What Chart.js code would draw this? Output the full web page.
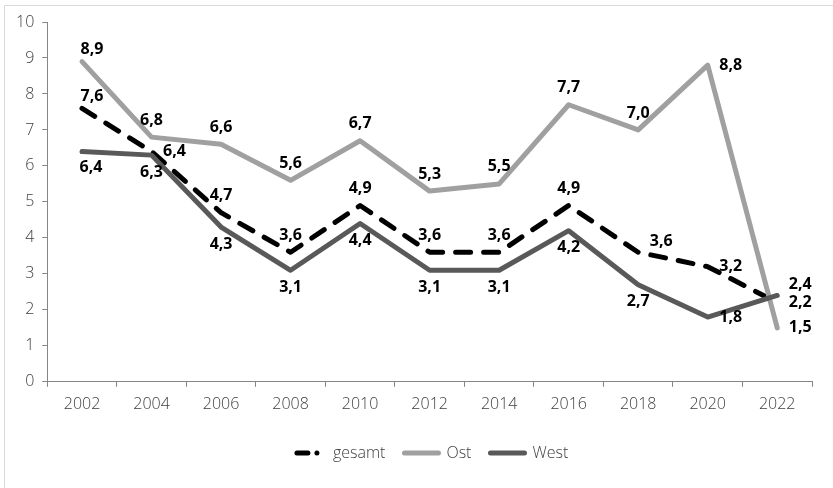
<!DOCTYPE html>
<html lang="de">
<head>
<meta charset="utf-8">
<title>gesamt / Ost / West</title>
<script src="https://cdn.jsdelivr.net/npm/chart.js@4.4.1/dist/chart.umd.min.js"></script>
<style>
  html, body { margin: 0; padding: 0; background: #fff; overflow: hidden; }
  #wrap { position: relative; width: 833px; height: 488px; }
</style>
</head>
<body>
<div id="wrap"><canvas id="chart"></canvas></div>
<script>
/* Jahre und Werte je Gruppe */
const years   = ['2002', '2004', '2006', '2008', '2010', '2012', '2014', '2016', '2018', '2020', '2022'];
const gesamt  = [7.6, 6.4, 4.7, 3.6, 4.9, 3.6, 3.6, 4.9, 3.6, 3.2, 2.2];
const ost     = [8.9, 6.8, 6.6, 5.6, 6.7, 5.3, 5.5, 7.7, 7.0, 8.8, 1.5];
const west    = [6.4, 6.3, 4.3, 3.1, 4.4, 3.1, 3.1, 4.2, 2.7, 1.8, 2.4];
const yTicks  = [0, 1, 2, 3, 4, 5, 6, 7, 8, 9, 10];

// Lage der Wertbeschriftung je Punkt (t = oben, b = unten, r = rechts, ...)
const gesamtPos = ['tr', 'r', 't', 't', 't', 't', 't', 't', 'rt', 'r', 'r'];
const ostPos    = ['tr', 't', 't', 't', 't', 't', 't', 't', 't', 'r', 'r'];
const westPos   = ['br', 'b', 'b', 'b', 'b', 'b', 'b', 'b', 'b', 'r', 'rt'];

const FONT = "'Open Sans', 'Noto Sans', sans-serif";
const colors = {
  gesamt: '#000000',
  ost:    '#a0a0a0',
  west:   '#595959',
  axis:   '#868686',
  text:   '#404040',
  frame:  '#d9d9d9'
};

const offsets = {
  t:  [0, -17],
  b:  [0, 17],
  r:  [23, 0],
  tr: [10, -12],
  br: [9, 16],
  rt: [23, -11]
};

// Rahmen um die ganze Grafik
const framePlugin = {
  id: 'frame',
  beforeDraw(chart) {
    const ctx = chart.ctx;
    ctx.save();
    ctx.strokeStyle = colors.frame;
    ctx.lineWidth = 1;
    ctx.beginPath();
    ctx.moveTo(4.5, chart.height);
    ctx.lineTo(4.5, 5.5);
    ctx.lineTo(chart.width, 5.5);
    ctx.stroke();
    ctx.restore();
  }
};

// Legende unter der Mitte der Zeichenfläche ausrichten
const legendShift = {
  id: 'legendShift',
  afterLayout(chart) {
    const lg = chart.legend;
    const area = chart.chartArea;
    const dx = (area.left + area.right) / 2 - (lg.left + lg.right) / 2;
    lg.left += dx;
    lg.right += dx;
  }
};

// Zahlenwerte mit Dezimalkomma an die Punkte schreiben
const valueLabels = {
  id: 'valueLabels',
  afterDatasetsDraw(chart) {
    const ctx = chart.ctx;
    ctx.save();
    ctx.font = 'bold 16px ' + FONT;
    ctx.fillStyle = '#000';
    ctx.textAlign = 'center';
    ctx.textBaseline = 'middle';
    chart.data.datasets.forEach((ds, di) => {
      const meta = chart.getDatasetMeta(di);
      meta.data.forEach((pt, i) => {
        const [dx, dy] = offsets[ds.labelPos[i]];
        const txt = ds.data[i].toFixed(1).replace('.', ',');
        ctx.fillText(txt, pt.x + dx, pt.y + dy);
      });
    });
    ctx.restore();
  }
};

const lineBase = {
  borderWidth: 5,
  borderCapStyle: 'round',
  borderJoinStyle: 'round',
  pointRadius: 0,
  pointHoverRadius: 0,
  tension: 0,
  fill: false
};

new Chart(document.getElementById('chart'), {
  type: 'line',
  data: {
    labels: years,
    datasets: [
      Object.assign({}, lineBase, {
        label: 'gesamt',
        data: gesamt,
        borderColor: colors.gesamt,
        borderDash: [15, 13],
        labelPos: gesamtPos,
        order: 3
      }),
      Object.assign({}, lineBase, {
        label: 'Ost',
        data: ost,
        borderColor: colors.ost,
        labelPos: ostPos,
        order: 2
      }),
      Object.assign({}, lineBase, {
        label: 'West',
        data: west,
        borderColor: colors.west,
        labelPos: westPos,
        order: 1
      })
    ]
  },
  options: {
    responsive: true,
    maintainAspectRatio: false,
    animation: false,
    layout: { padding: { left: 8, right: 21, top: 22, bottom: 17 } },
    plugins: {
      tooltip: { enabled: false },
      legend: {
        position: 'bottom',
        labels: {
          usePointStyle: true,
          pointStyleWidth: 34,
          boxHeight: 5,
          padding: 19,
          color: colors.text,
          font: { family: FONT, size: 16, weight: '300' },
          generateLabels(chart) {
            return chart.data.datasets.map((ds, i) => ({
              text: ds.label,
              datasetIndex: i,
              pointStyle: 'line',
              strokeStyle: ds.borderColor,
              fillStyle: ds.borderColor,
              lineWidth: 5,
              lineCap: 'round',
              // Strich + Punkt wie im Linienmuster, etwas nach rechts versetzt
              lineDash: ds.borderDash ? [11, 9, 0, 40] : [],
              lineDashOffset: ds.borderDash ? -6 : 0,
              fontColor: colors.text
            }));
          }
        }
      }
    },
    scales: {
      x: {
        offset: true,
        border: { color: colors.axis, width: 1 },
        grid: { display: true, drawOnChartArea: false, color: colors.axis, tickLength: 5, offset: true },
        ticks: { color: colors.text, font: { family: FONT, size: 16, weight: '300' }, padding: 8, maxRotation: 0 },
        afterFit(scale) { scale.height += 4; }
      },
      y: {
        min: 0,
        max: 10,
        border: { color: colors.axis, width: 1 },
        grid: { display: true, drawOnChartArea: false, color: colors.axis, tickLength: 5 },
        afterBuildTicks(scale) { scale.ticks = yTicks.map(v => ({ value: v })); },
        ticks: { color: colors.text, font: { family: FONT, size: 16, weight: '300' }, padding: 8 }
      }
    }
  },
  plugins: [framePlugin, legendShift, valueLabels]
});
</script>
</body>
</html>
